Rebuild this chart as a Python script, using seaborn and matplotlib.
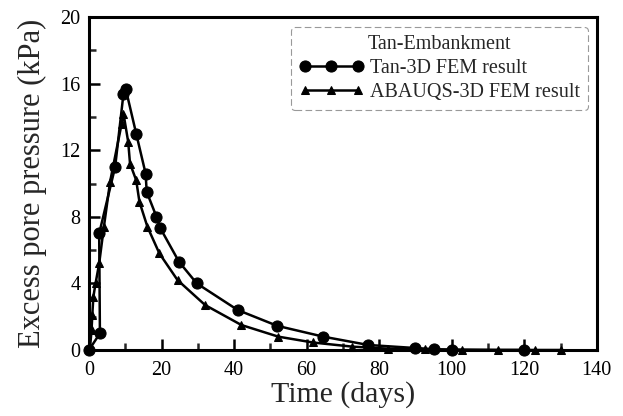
import matplotlib
matplotlib.use("Agg")
import matplotlib.pyplot as plt
import seaborn as sns
import pandas as pd
from matplotlib.ticker import MultipleLocator

tan_x = [0, 3.0, 2.8, 7.2, 9.5, 10.1, 13.0, 15.6, 15.9, 18.6, 19.7, 24.8, 29.7, 41.0, 51.9, 64.6, 77.0, 89.8, 95.0, 100.0, 120.0]
tan_y = [0, 1.0, 7.0, 11.0, 15.4, 15.7, 13.0, 10.6, 9.5, 8.0, 7.3, 5.3, 4.0, 2.4, 1.45, 0.8, 0.3, 0.12, 0.05, 0.0, 0.0]

aba_x = [0.3, 0.7, 0.9, 1.2, 1.8, 2.8, 4.1, 5.8, 9.0, 9.5, 10.8, 11.3, 13.0, 13.9, 16.1, 19.4, 24.4, 32.0, 42.0, 52.2, 61.7, 72.6, 82.4, 92.6, 102.7, 112.7, 123.0, 130.0]
aba_y = [0.2, 1.2, 2.1, 3.2, 4.0, 5.2, 7.4, 10.1, 13.6, 14.2, 12.5, 11.2, 10.2, 8.9, 7.4, 5.8, 4.2, 2.7, 1.5, 0.8, 0.45, 0.2, 0.08, 0.04, 0.02, 0.0, 0.0, 0.0]

sns.set_theme(style="ticks")
plt.rcParams['font.family'] = ['Liberation Serif', 'DejaVu Serif']

fig = plt.figure(figsize=(6.23, 4.16), dpi=100)
ax = fig.add_axes([0.1429, 0.1587, 0.958 - 0.1429, 0.959 - 0.1587])

df_tan = pd.DataFrame({"x": tan_x, "y": tan_y})
df_aba = pd.DataFrame({"x": aba_x, "y": aba_y})

sns.lineplot(data=df_tan, x="x", y="y", sort=False, estimator=None, ax=ax,
             color="black", lw=1.8, marker="o", markersize=8, markeredgecolor="black",
             label="Tan-3D FEM result", zorder=3, clip_on=False)
sns.lineplot(data=df_aba, x="x", y="y", sort=False, estimator=None, ax=ax,
             color="black", lw=1.8, marker="^", markersize=5.5, markeredgecolor="black",
             label="ABAUQS-3D FEM result", zorder=3, clip_on=False)

ax.set_xlim(0, 140)
ax.set_ylim(0, 20)
ax.xaxis.set_major_locator(MultipleLocator(20))
ax.xaxis.set_minor_locator(MultipleLocator(10))
ax.yaxis.set_major_locator(MultipleLocator(4))
ax.yaxis.set_minor_locator(MultipleLocator(2))
ax.tick_params(which="major", direction="in", length=8, width=1.8, labelsize=14.5, colors="black")
ax.tick_params(axis="x", which="major", pad=8)
ax.tick_params(axis="y", which="major", pad=6)
ax.tick_params(which="minor", direction="in", length=5, width=1.8)
for s in ax.spines.values():
    s.set_linewidth(2.2)
    s.set_color("black")

ax.set_xlabel("Time (days)", fontsize=21.5, labelpad=1)
ax.set_ylabel("Excess pore pressure (kPa)", fontsize=22, labelpad=10)

leg = ax.legend(title="Tan-Embankment", loc="upper right", bbox_to_anchor=(0.982, 0.97),
                borderaxespad=0.0,
                numpoints=3, handlelength=3.2, fontsize=14.5, title_fontsize=14.5,
                frameon=True, fancybox=True, edgecolor="gray", borderpad=0.4,
                labelspacing=0.25, handletextpad=0.3)
leg.get_frame().set_linestyle((0, (6, 3)))
leg.get_frame().set_linewidth(0.8)

fig.savefig("out.png", dpi=100)
